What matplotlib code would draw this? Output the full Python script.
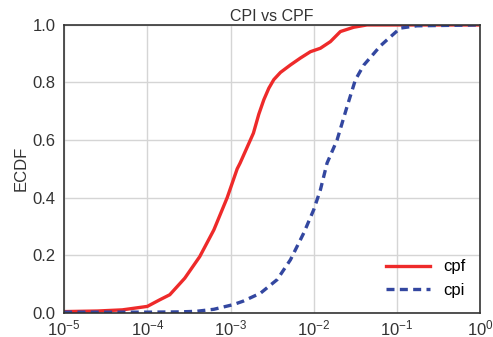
import matplotlib
matplotlib.use("Agg")
import matplotlib.pyplot as plt
import numpy as np

# log10 of x and ECDF values
cpf_logx = [-5.0, -4.6, -4.3, -4.0, -3.85, -3.73, -3.55, -3.37, -3.2, -3.04, -2.92,
            -2.885, -2.725, -2.66, -2.60, -2.54, -2.48, -2.40, -2.28, -2.16, -2.04,
            -1.92, -1.80, -1.68, -1.52, -1.36, 0.0]
cpf_y = [0.004, 0.006, 0.01, 0.022, 0.045, 0.0625, 0.12, 0.195, 0.288, 0.40, 0.50,
         0.52, 0.624, 0.69, 0.74, 0.78, 0.81, 0.835, 0.861, 0.885, 0.907,
         0.919, 0.942, 0.977, 0.992, 1.0, 1.0]

cpi_logx = [-5.0, -4.0, -3.6, -3.41, -3.2, -2.97, -2.85, -2.64, -2.44, -2.28, -2.12,
            -2.0, -1.92, -1.84, -1.72, -1.60, -1.50, -1.40, -1.28, -1.20, -1.12,
            -0.96, -0.76, 0.0]
cpi_y = [0.002, 0.002, 0.003, 0.005, 0.012, 0.028, 0.04, 0.068, 0.115, 0.184, 0.277,
         0.358, 0.427, 0.52, 0.60, 0.716, 0.809, 0.86, 0.90, 0.927, 0.948,
         0.989, 0.997, 1.0]

plt.rcParams['font.family'] = ['Liberation Sans', 'DejaVu Sans']
fig, ax = plt.subplots(figsize=(4.93, 3.37), dpi=100)
fig.subplots_adjust(left=0.13, right=0.974, top=0.926, bottom=0.072)

ax.plot(10 ** np.array(cpf_logx), cpf_y, color='#ee2a2a', lw=2.4, label='cpf')
ax.plot(10 ** np.array(cpi_logx), cpi_y, color='#3347a0', lw=2.4, ls=(0, (2.4, 1.6)),
        label='cpi')

ax.set_xscale('log')
ax.set_xlim(1e-5, 1)
ax.set_ylim(0, 1)
ax.set_xticks([1e-5, 1e-4, 1e-3, 1e-2, 1e-1, 1])
ax.minorticks_off()
ax.grid(True, color='#d5d5d5', lw=1)
ax.set_axisbelow(True)
for s in ax.spines.values():
    s.set_color('#333333')
    s.set_linewidth(1.2)
ax.tick_params(length=0, labelsize=12, colors='#333333')
ax.tick_params(axis='y', pad=6)
ax.tick_params(axis='x', pad=4)
ax.set_ylabel('ECDF', fontsize=12, color='#333333', labelpad=3)
ax.set_title('CPI vs CPF', fontsize=11.5, color='#333333', pad=3)
ax.legend(loc='lower right', frameon=False, fontsize=12, handlelength=2.6)

fig.savefig('out.png', dpi=100)
